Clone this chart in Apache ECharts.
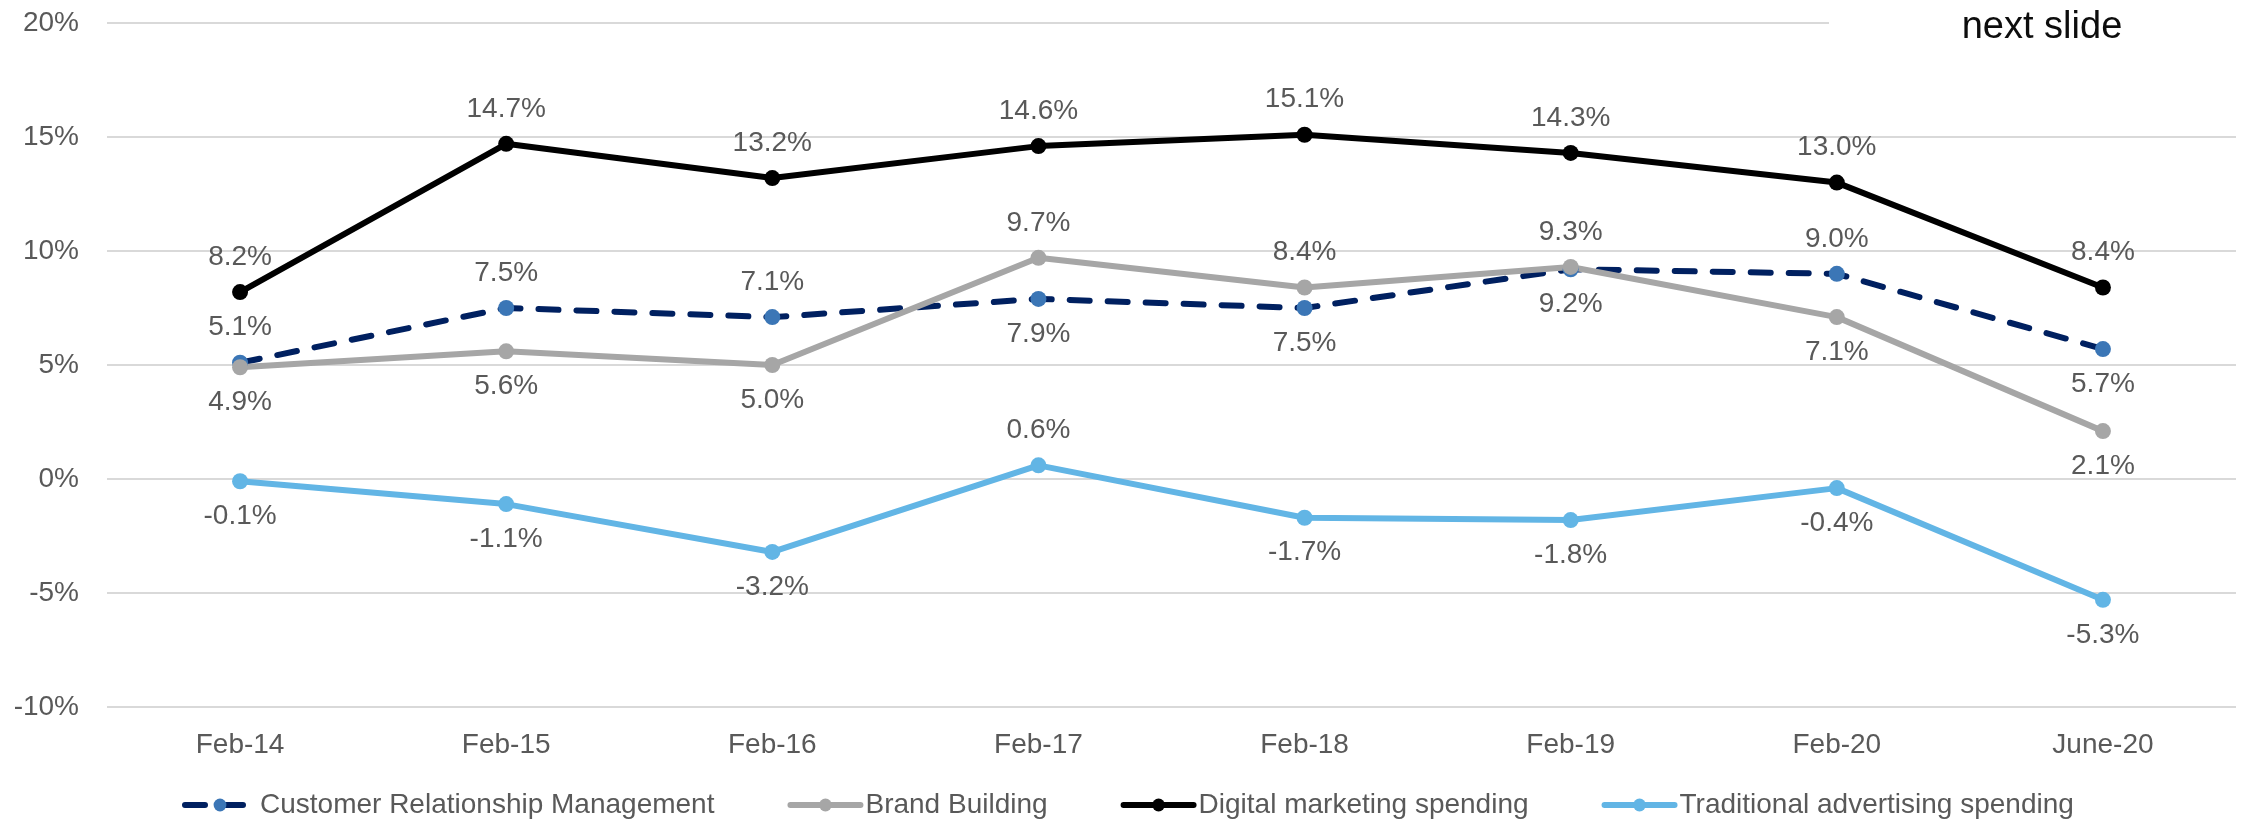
<!DOCTYPE html>
<html>
<head>
<meta charset="utf-8">
<script src="https://cdn.jsdelivr.net/npm/echarts@6.0.0/dist/echarts.min.js"></script>
<style>
  html, body { margin: 0; padding: 0; background: #fff; }
  #chart { width: 2241px; height: 820px; }
</style>
</head>
<body>
<div id="chart"></div>
<script>
// categories and values
const categories = ['Feb-14', 'Feb-15', 'Feb-16', 'Feb-17', 'Feb-18', 'Feb-19', 'Feb-20', 'June-20'];
const crmValues = [5.1, 7.5, 7.1, 7.9, 7.5, 9.2, 9.0, 5.7];
const brandValues = [4.9, 5.6, 5.0, 9.7, 8.4, 9.3, 7.1, 2.1];
const digitalValues = [8.2, 14.7, 13.2, 14.6, 15.1, 14.3, 13.0, 8.4];
const traditionalValues = [-0.1, -1.1, -3.2, 0.6, -1.7, -1.8, -0.4, -5.3];
// where each value label sits
const crmLabelPos = ['top', 'top', 'top', 'bottom', 'bottom', 'bottom', 'top', 'bottom'];
const brandLabelPos = ['bottom', 'bottom', 'bottom', 'top', 'top', 'top', 'bottom', 'bottom'];
const digitalLabelPos = ['top', 'top', 'top', 'top', 'top', 'top', 'top', 'top'];
const traditionalLabelPos = ['bottom', 'bottom', 'bottom', 'top', 'bottom', 'bottom', 'bottom', 'bottom'];

const FONT = '"Liberation Sans", Arial, sans-serif';
const TXT = '#595959';

var chart = echarts.init(document.getElementById('chart'));

// build point list with per-point label position
function points(values, positions) {
  return values.map(function (v, i) {
    return { value: v, label: { position: positions[i] } };
  });
}

function lineSeries(name, values, positions, lineColor, dotColor, dashed) {
  return {
    name: name,
    type: 'line',
    data: points(values, positions),
    symbol: 'circle',
    symbolSize: 16,
    lineStyle: {
      color: lineColor,
      width: 6,
      type: dashed ? [20, 18] : 'solid',
      cap: 'round'
    },
    itemStyle: { color: dotColor },
    label: {
      show: true,
      distance: 13,
      fontSize: 28,
      fontFamily: FONT,
      color: TXT,
      formatter: function (p) { return p.value.toFixed(1) + '%'; }
    },
    emphasis: { disabled: true },
    animation: false
  };
}

chart.setOption({
  backgroundColor: '#fff',
  animation: false,
  grid: { left: 107, right: 5, top: 23, bottom: 113 },
  xAxis: {
    type: 'category',
    data: categories,
    boundaryGap: true,
    axisLine: { show: false },
    axisTick: { show: false },
    axisLabel: { fontSize: 28, fontFamily: FONT, color: TXT, margin: 24 }
  },
  yAxis: {
    type: 'value',
    min: -10,
    max: 20,
    interval: 5,
    axisLine: { show: false },
    axisTick: { show: false },
    axisLabel: { fontSize: 28, fontFamily: FONT, color: TXT, margin: 28, formatter: '{value}%' },
    splitLine: { lineStyle: { color: '#D9D9D9', width: 2 } }
  },
  legend: {
    left: 182,
    top: 791,
    padding: 0,
    itemWidth: 70,
    itemHeight: 16,
    itemGap: 73,
    textStyle: { fontSize: 28, fontFamily: FONT, color: TXT },
    lineStyle: { width: 6 },
    data: ['Customer Relationship Management', 'Brand Building', 'Digital marketing spending', 'Traditional advertising spending']
  },
  graphic: [
    {
      type: 'rect', z: 100,
      shape: { x: 1829, y: 0, width: 412, height: 60 },
      style: { fill: '#fff' }
    },
    {
      type: 'text', z: 101,
      x: 2042, y: 28,
      style: { text: 'next slide', fontSize: 38, fontFamily: FONT, fill: '#0D0D0D', align: 'center', verticalAlign: 'middle' }
    }
  ],
  series: [
    lineSeries('Customer Relationship Management', crmValues, crmLabelPos, '#002060', '#3B76B6', true),
    lineSeries('Brand Building', brandValues, brandLabelPos, '#A6A6A6', '#A6A6A6', false),
    lineSeries('Digital marketing spending', digitalValues, digitalLabelPos, '#000000', '#000000', false),
    lineSeries('Traditional advertising spending', traditionalValues, traditionalLabelPos, '#62B5E5', '#62B5E5', false)
  ]
});
</script>
</body>
</html>
